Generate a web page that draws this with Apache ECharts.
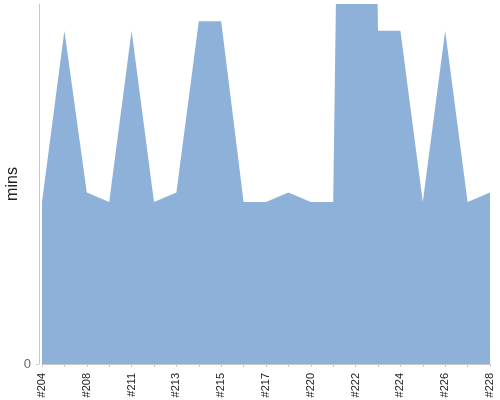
<!DOCTYPE html>
<html>
<head>
<meta charset="utf-8">
<script src="https://cdn.jsdelivr.net/npm/echarts@6/dist/echarts.min.js"></script>
<style>
html,body{margin:0;padding:0;background:#fff;}
#chart{width:500px;height:400px;}
</style>
</head>
<body>
<div id="chart"></div>
<script>
const categories = ['#204','#206','#208','#210','#211','#212','#213','#214','#215','#216','#217','#219','#220','#221','#222','#223','#224','#225','#226','#227','#228'];
const minsValues = [17, 35, 18, 17, 35, 17, 18, 36, 36, 17, 17, 18, 17, 17, 190, 35, 35, 17, 35, 17, 18];
const yMax = 37.8;
const yTickValues = [0];

const chart = echarts.init(document.getElementById('chart'));
chart.setOption({
  animation: false,
  textStyle: { fontFamily: 'Liberation Sans, Arial, sans-serif' },
  grid: { left: 42, right: 10, top: 4, bottom: 36, containLabel: false, outerBoundsMode: 'none' },
  xAxis: {
    type: 'category',
    data: categories,
    boundaryGap: false,
    offset: 5,
    axisLine: { lineStyle: { color: '#c8c8c8', width: 1 } },
    axisTick: { interval: 0, length: 3, lineStyle: { color: '#c8c8c8' } },
    axisLabel: { interval: 1, rotate: 90, fontSize: 11, color: '#222', margin: 4 },
    splitLine: { show: false }
  },
  yAxis: {
    type: 'value',
    min: 0,
    max: yMax,
    offset: 3,
    name: 'mins',
    nameLocation: 'middle',
    nameGap: 18,
    nameMoveOverlap: false,
    nameTextStyle: { fontSize: 16, color: '#222' },
    axisLine: { show: true, lineStyle: { color: '#c8c8c8', width: 1 } },
    axisTick: { show: true, length: 3, customValues: yTickValues, lineStyle: { color: '#c8c8c8' } },
    axisLabel: { customValues: yTickValues, color: '#666', fontSize: 13, margin: 8 },
    splitLine: { show: false }
  },
  series: [{
    type: 'line',
    data: minsValues,
    symbol: 'none',
    lineStyle: { width: 0, color: '#8EB1DA' },
    itemStyle: { color: '#8EB1DA' },
    areaStyle: { color: '#8EB1DA', opacity: 1 },
    clip: true
  }]
});
</script>
</body>
</html>
